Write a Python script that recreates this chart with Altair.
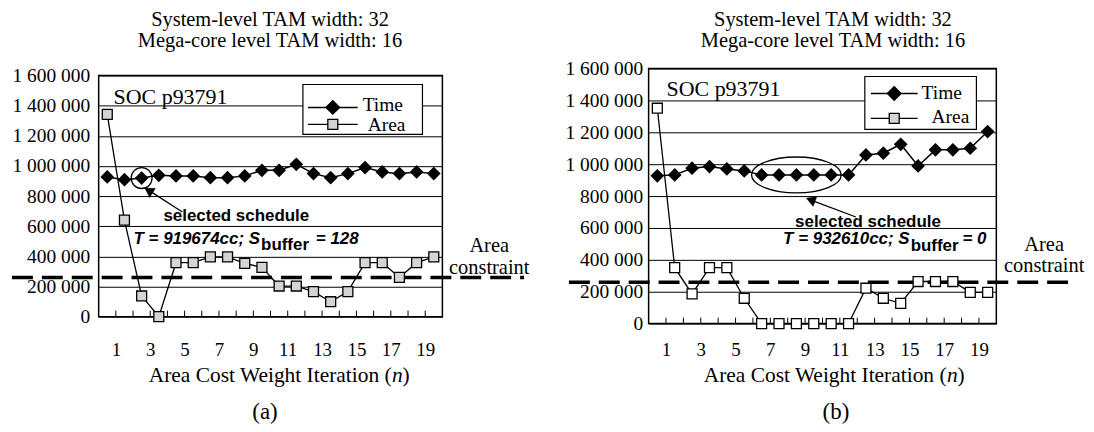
import altair as alt
import pandas as pd

# ---------------- data ----------------
iterations = list(range(1, 21))
time_a = [927000, 909000, 919674, 938000, 934000, 934000, 922000, 922000, 934000, 971000,
          971000, 1011000, 949000, 922000, 949000, 989000, 960000, 949000, 960000, 949000]
area_a = [1342000, 640000, 137000, 0, 358000, 358000, 397000, 397000, 353000, 327000,
          203000, 203000, 166000, 99000, 166000, 358000, 358000, 260000, 358000, 397000]
time_b = [927000, 933000, 975000, 985000, 970000, 958000, 932610, 932610, 932610, 932610,
          932610, 932610, 1058000, 1069000, 1125000, 989000, 1090000, 1090000, 1100000, 1205000]
area_b = [1351000, 351000, 186000, 351000, 351000, 159000, 0, 0, 0, 0,
          0, 0, 222000, 159000, 127000, 264000, 264000, 264000, 196000, 196000]
area_constraint = [260000, 260000]
selected_n = [3, 9]
selected_t = [919674, 932610]

y_ticks = [0, 200000, 400000, 600000, 800000, 1000000, 1200000, 1400000, 1600000]
x_label_pos = [1.5, 3.5, 5.5, 7.5, 9.5, 11.5, 13.5, 15.5, 17.5, 19.5]
x_tick_pos = [1.5, 2.5, 3.5, 4.5, 5.5, 6.5, 7.5, 8.5, 9.5, 10.5,
              11.5, 12.5, 13.5, 14.5, 15.5, 16.5, 17.5, 18.5, 19.5]

title_lines = ["System-level TAM width: 32", "Mega-core level TAM width: 16"]
soc_label = "SOC p93791"
legend_labels = ["Time", "Area"]
constraint_label = ["Area", "constraint"]
axis_title = ["Area Cost Weight Iteration (", "n", ")"]
sel_label = "selected schedule"
sel_a = ["T = 919674cc; S", "buffer", "= 128"]
sel_b = ["T = 932610cc; S", "buffer", "= 0"]

SERIF = "Liberation Serif"
SANS = "Liberation Sans"
one = pd.DataFrame({"k": [0]})


def txt(s, x, y, size, font=SERIF, align="left", weight="normal", style="normal"):
    return alt.Chart(one).mark_text(
        text=s, font=font, fontSize=size, align=align, baseline="alphabetic",
        fontWeight=weight, fontStyle=style, color="black"
    ).encode(x=alt.value(x), y=alt.value(y))


def prule(x1, y1, x2, y2, width=1.3):
    return alt.Chart(one).mark_rule(color="black", strokeWidth=width).encode(
        x=alt.value(x1), y=alt.value(y1), x2=alt.value(x2), y2=alt.value(y2))


def ppoint(x, y, shape, size, fill, angle=0, sw=1.2):
    return alt.Chart(one).mark_point(
        shape=shape, size=size, filled=True, fill=fill, stroke="black",
        strokeWidth=sw, opacity=1, angle=angle
    ).encode(x=alt.value(x), y=alt.value(y))


def panel(time_vals, area_vals, constraint, sel_n, sel_t, sq_fill, sel_shape, sel_size, sel_texts, g):
    w, h = g["w"], g["h"]
    df = pd.DataFrame({
        "n": iterations + iterations,
        "series": ["Time"] * 20 + ["Area"] * 20,
        "value": time_vals + area_vals,
    })
    X = alt.X("n:Q", scale=alt.Scale(domain=[0.5, 20.5], nice=False, zero=False),
              axis=alt.Axis(values=x_label_pos, labelExpr="format(datum.value - 0.5, 'd')",
                            title=None, grid=False, ticks=False, domain=False,
                            labelFont=SERIF, labelFontSize=19, labelColor="black",
                            labelPadding=g["xlp"], labelOverlap=False, labelFlush=False))
    Y = alt.Y("value:Q", scale=alt.Scale(domain=[0, 1600000], nice=False, zero=True),
              axis=alt.Axis(values=y_ticks,
                            labelExpr="replace(format(datum.value, ','), regexp(',', 'g'), ' ')",
                            title=None, grid=True, gridColor="black", gridWidth=1, gridOpacity=1,
                            ticks=False, domain=False, labelFont=SERIF, labelFontSize=19.5,
                            labelColor="black", labelPadding=g["ylp"], labelOverlap=False,
                            labelFlush=False))
    base = alt.Chart(df).encode(x=X, y=Y)
    layers = []
    lb = g["legbox"]
    layers.append(alt.Chart(one).mark_rect(fill="white", stroke="black", strokeWidth=1.2).encode(
        x=alt.value(lb[0]), x2=alt.value(lb[1]), y=alt.value(lb[2]), y2=alt.value(lb[3])))
    layers.append(alt.Chart(pd.DataFrame({"value": [constraint]})).mark_rule(
        color="black", strokeWidth=3.5, strokeDash=[21, 9]).encode(
        y=Y, x=alt.value(g["dash"][0]), x2=alt.value(g["dash"][1])))
    layers.append(alt.Chart(pd.DataFrame({"n": x_tick_pos})).mark_rule(
        color="black", strokeWidth=1).encode(x=X, y=alt.value(h), y2=alt.value(h - 6)))
    layers.append(base.transform_filter("datum.series == 'Time'").mark_line(color="black", strokeWidth=1.5))
    layers.append(base.transform_filter("datum.series == 'Area'").mark_line(color="black", strokeWidth=1.3))
    layers.append(base.transform_filter("datum.series == 'Time'").mark_point(
        shape="diamond", filled=True, color="black", size=190, opacity=1))
    layers.append(base.transform_filter("datum.series == 'Area'").mark_point(
        shape="square", filled=True, fill=sq_fill, stroke="black", strokeWidth=1.3, size=100, opacity=1))
    layers.append(alt.Chart(pd.DataFrame({"n": [sel_n], "value": [sel_t]})).mark_point(
        shape=sel_shape, size=sel_size, filled=False, stroke="black", strokeWidth=1.3, opacity=1
    ).encode(x=X, y=Y))
    ar = g["arrow"]
    layers.append(prule(ar[0], ar[1], ar[2], ar[3], 1.3))
    layers.append(ppoint(ar[4], ar[5], "triangle-up", 110, "black", angle=ar[6], sw=0.5))
    st = g["seltext"]
    layers.append(txt(sel_label, st[0], st[1], 17, SANS, weight="bold"))
    layers.append(txt(sel_texts[0], st[2], st[3], 17, SANS, align="right", weight="bold", style="italic"))
    layers.append(txt(sel_texts[1], st[2] + 1, st[4], 17, SANS, weight="bold"))
    layers.append(txt(sel_texts[2], st[5], st[3], 17, SANS, weight="bold", style="italic"))
    lg = g["leg"]
    layers.append(prule(lg[0], lg[2], lg[1], lg[2], 1.5))
    layers.append(prule(lg[0], lg[3], lg[1], lg[3], 1.3))
    layers.append(ppoint((lg[0] + lg[1]) / 2, lg[2], "diamond", 190, "black"))
    layers.append(ppoint((lg[0] + lg[1]) / 2, lg[3], "square", 100, "#d4d4d4", sw=1.3))
    layers.append(txt(legend_labels[0], lg[4], lg[5], 19.5))
    layers.append(txt(legend_labels[1], lg[6], lg[7], 19.5))
    layers.append(txt(soc_label, g["soc"][0], g["soc"][1], 22))
    layers.append(txt(title_lines[0], g["title"][0], g["title"][1], 20.5, align="center"))
    layers.append(txt(title_lines[1], g["title"][0], g["title"][2], 20.5, align="center"))
    ac = g["constr"]
    layers.append(txt(constraint_label[0], ac[0], ac[1], 20.5, align="center"))
    layers.append(txt(constraint_label[1], ac[0], ac[2], 20.5, align="center"))
    at = g["atitle"]
    layers.append(txt(axis_title[0], at[0], at[1], 21.5, align="right"))
    layers.append(txt(axis_title[1], at[0] + 0.5, at[1], 21.5, style="italic"))
    layers.append(txt(axis_title[2], at[0] + 11, at[1], 21.5))
    layers.append(txt(g["tag"], g["tagpos"][0], g["tagpos"][1], 23, align="center"))
    return alt.layer(*layers).properties(width=w, height=h)


geo_a = dict(w=345, h=242, xlp=24, ylp=9,
             legbox=[205, 325, 9, 59], dash=[-87, 427],
             arrow=[84, 137, 50, 115, 50.2, 115.4, 302.5],
             seltext=[65, 146, 162, 169, 175.5, 218],
             leg=[210, 260, 32, 49, 265, 35.5, 270, 56],
             soc=[15, 29], title=[172, -49.5, -28.5], constr=[392, 177, 199],
             atitle=[294, 308], tag="(a)", tagpos=[167, 345])
geo_b = dict(w=349, h=256, xlp=17, ylp=6,
             legbox=[217, 329, 8, 61], dash=[-80, 425],
             arrow=[208, 149, 163, 132, 162.7, 131.8, 291],
             seltext=[147, 159, 262, 176, 183, 315],
             leg=[223, 270, 25, 50, 274, 31, 284, 55],
             soc=[18, 28], title=[185, -42.5, -21.5], constr=[397, 183, 204],
             atitle=[299, 315], tag="(b)", tagpos=[188, 352])

ellipse = "M-1,0A1,0.4,0,1,0,1,0A1,0.4,0,1,0,-1,0Z"

left = panel(time_a, area_a, area_constraint[0], selected_n[0], selected_t[0], "#d4d4d4",
             "circle", 441, sel_a, geo_a)
right = panel(time_b, area_b, area_constraint[1], selected_n[1], selected_t[1], "white",
              ellipse, 8100, sel_b, geo_b)

chart = alt.hconcat(left, right, spacing=207, bounds="flush", center=True).properties(
    padding={"left": 1, "top": 0, "right": 0, "bottom": 0},
    background="white",
).configure_view(stroke="black", strokeWidth=1.5)

chart.save("out.html", embed_options={"renderer": "svg", "actions": False})
